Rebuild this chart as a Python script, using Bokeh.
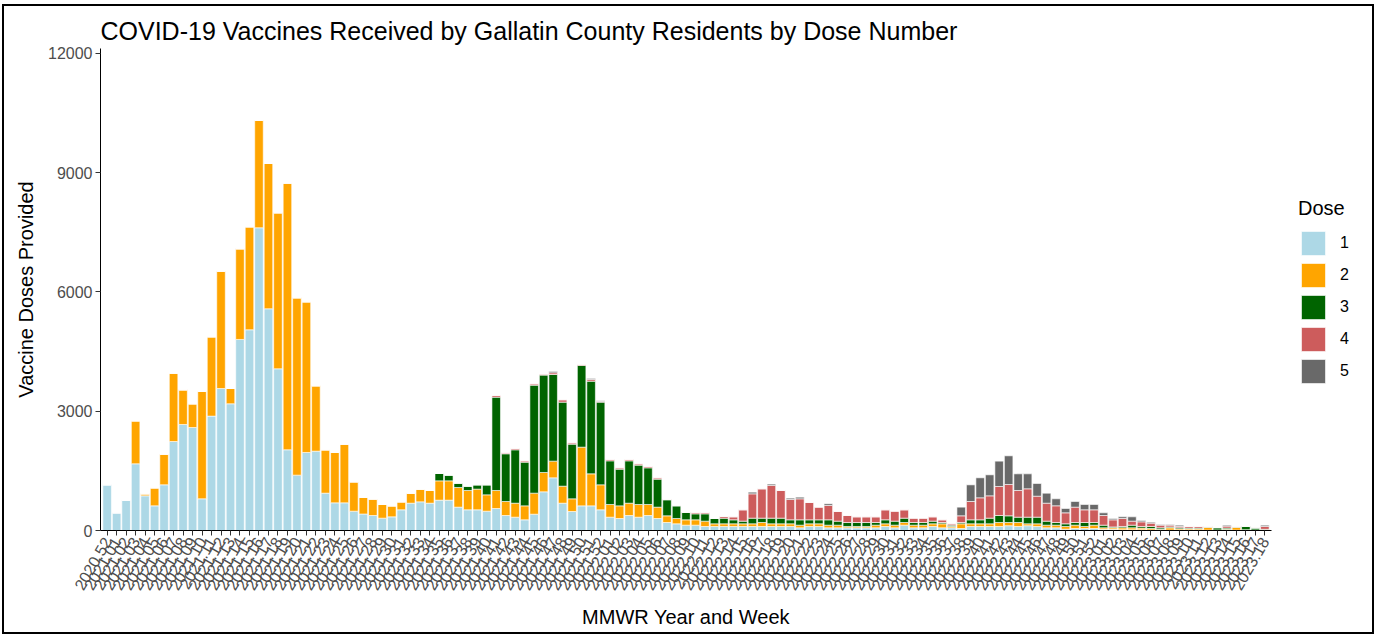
import math
from bokeh.plotting import figure
from bokeh.layouts import row
from bokeh.models import (FactorRange, FixedTicker, Legend, LegendItem, ColumnDataSource,
                          Range1d)
from bokeh.embed import file_html
from bokeh.resources import INLINE

# MMWR year.week categories
weeks = (["2020.52"]
         + [f"2021.{w:02d}" for w in range(1, 53)]
         + [f"2022.{w:02d}" for w in range(1, 53)]
         + [f"2023.{w:02d}" for w in range(1, 19)])

doses = ["1", "2", "3", "4", "5"]
colors = ["#ADD8E6", "#FFA500", "#006400", "#CD5C5C", "#696969"]

dose1 = [1150, 445, 762, 1677, 872, 620, 1149, 2238, 2666, 2590,
         797, 2876, 3571, 3186, 4804, 5047, 7612, 5575, 4066, 2029,
         1392, 1962, 1995, 939, 696, 696, 486, 415, 377, 310,
         343, 520, 687, 721, 687,
         763, 763, 587, 520, 520, 486, 553, 377, 335, 268,
         410, 973, 1325, 687, 478, 620, 620, 520, 335, 302,
         377, 335, 377, 302,
         201, 168, 134, 134, 101, 101, 101, 101, 101, 101,
         101, 101, 101, 101, 67, 101, 101, 67, 67, 67,
         67, 67, 67, 101, 67, 134, 67, 67, 101, 67, 67,
         50, 101, 101, 101, 101, 120, 101, 120, 101, 67,
         67, 34, 50, 50, 50, 30, 30, 20, 20, 20,
         15, 10, 10, 10, 10, 10, 10, 5, 10, 10, 5, 5, 5]

dose2 = [0, 0, 0, 1081, 50, 453, 771, 1719, 872, 596,
         2699, 1995, 2951, 385, 2280, 2590, 2700, 3655, 3923, 6706,
         4460, 3789, 1644, 1090, 1266, 1475, 738, 420, 415, 344,
         277, 201, 252, 319, 319,
         486, 486, 495, 486, 520, 411, 453, 352, 352, 352,
         529, 486, 419, 428, 319, 1476, 805, 629, 319, 318,
         310, 319, 277, 285,
         168, 134, 134, 134, 134, 67, 67, 67, 67, 67,
         100, 67, 67, 67, 67, 67, 67, 67, 67, 34,
         34, 34, 67, 67, 67, 67, 67, 67, 67, 101, 34,
         118, 67, 67, 67, 100, 81, 100, 48, 67, 67,
         67, 67, 84, 51, 84, 37, 37, 47, 47, 40,
         35, 20, 57, 30, 30, 30, 70, 10, 20, 70, 15, 10, 10]

dose3 = [0, 0, 0, 0, 0, 0, 0, 0, 0, 0,
         0, 0, 0, 0, 0, 0, 0, 0, 0, 0,
         0, 0, 0, 0, 0, 0, 0, 0, 0, 0,
         0, 0, 0, 0, 0,
         184, 143, 108, 109, 109, 252, 2347, 1200, 1342, 1098,
         2716, 2448, 2179, 2112, 1374, 2054, 2330, 2078, 1098, 922,
         1065, 989, 922, 704,
         402, 318, 185, 151, 184, 134, 142, 100, 67, 142,
         109, 142, 142, 100, 134, 100, 100, 134, 101, 100,
         100, 100, 67, 100, 101, 109, 67, 67, 67, 33, 33,
         33, 100, 100, 142, 176, 168, 134, 167, 167, 101,
         67, 67, 67, 100, 67, 67, 23, 34, 67, 41,
         51, 37, 23, 27, 20, 20, 10, 52, 30, 10, 81, 45, 15]

dose4 = [0, 0, 0, 0, 0, 0, 0, 0, 0, 0,
         0, 0, 0, 0, 0, 0, 0, 0, 0, 0,
         0, 0, 0, 0, 0, 0, 0, 0, 0, 0,
         0, 0, 0, 0, 0, 0, 0, 0, 0, 0,
         0,
         42, 24, 33, 34, 34, 25, 43, 60, 34, 25,
         43, 18, 34, 34, 34, 34, 34, 34,
         10, 5, 5, 34, 34, 0, 42, 76, 285, 612,
         738, 822, 696, 512, 529, 436, 319, 361, 243, 176,
         143, 143, 143, 252, 251, 210, 109, 109, 109, 67, 34,
         168, 461, 554, 562, 730, 788, 671, 713, 528, 452,
         420, 276, 386, 319, 319, 243, 178, 201, 101, 117,
         83, 67, 44, 34, 41, 41, 11, 8, 50, 11, 4, 7, 71]

dose5 = [0, 0, 0, 0, 0, 0, 0, 0, 0, 0,
         0, 0, 0, 0, 0, 0, 0, 0, 0, 0,
         0, 0, 0, 0, 0, 0, 0, 0, 0, 0,
         0, 0, 0, 0, 0, 0, 0, 0, 0, 0,
         0, 0, 0, 0, 0, 0, 0,
         33, 0, 0, 0, 25, 17,
         0, 0, 0, 0, 0, 0, 0, 0, 0, 0, 0, 0, 0, 0, 0,
         42, 0, 34, 0, 33, 41, 0, 0, 42,
         0, 0, 0, 0, 0, 0, 0, 0, 0, 0, 0, 0, 0,
         218, 419, 503, 528, 637, 721, 419, 377, 319, 252,
         176, 109, 142, 134, 134, 67, 34, 42, 109, 34,
         26, 16, 16, 33, 0, 0, 0, 0, 24, 0, 0, 0, 33]

y_ticks = [0, 3000, 6000, 9000, 12000]

for arr in (dose1, dose2, dose3, dose4, dose5):
    assert len(arr) == len(weeks), len(arr)

src = ColumnDataSource(dict(week=weeks, **{"1": dose1, "2": dose2, "3": dose3, "4": dose4, "5": dose5}))

FONT = "Liberation Sans"

p = figure(
    x_range=FactorRange(factors=weeks, range_padding=0.2, range_padding_units="absolute"),
    y_range=Range1d(0, 12120),
    width=1272, height=626,
    output_backend="svg", toolbar_location=None,
    title="COVID-19 Vaccines Received by Gallatin County Residents by Dose Number",
    min_border_left=96, min_border_right=5, min_border_top=42, min_border_bottom=102,
)

p.vbar_stack(doses, x="week", width=0.9, color=colors, source=src,
             line_color="white", line_width=0.6)

p.title.text_font = FONT
p.title.text_font_size = "25px"
p.title.text_font_style = "normal"
p.title.text_color = "black"
p.title.standoff = 8

p.outline_line_color = None
p.xgrid.visible = False
p.ygrid.visible = False
p.background_fill_color = "white"

for ax in (p.xaxis, p.yaxis):
    ax.axis_line_color = "black"
    ax.axis_line_width = 1
    ax.major_tick_line_color = "#333333"
    ax.major_tick_out = 5
    ax.major_tick_in = 0
    ax.minor_tick_line_color = None
    ax.major_label_text_font = FONT
    ax.major_label_text_font_size = "16px"
    ax.major_label_text_color = "#4D4D4D"
    ax.axis_label_text_font = FONT
    ax.axis_label_text_font_size = "20px"
    ax.axis_label_text_font_style = "normal"
    ax.axis_label_text_color = "black"

p.yaxis.ticker = FixedTicker(ticks=y_ticks)
p.yaxis.major_label_standoff = 3
p.yaxis.axis_label = "Vaccine Doses Provided"
p.yaxis.axis_label_standoff = 8

p.xaxis.major_label_orientation = math.pi / 3
p.xaxis.major_label_standoff = 3
p.xaxis.axis_label = "MMWR Year and Week"
p.xaxis.axis_label_standoff = 8

# legend panel (separate blank figure to the right of the plot)
lp = figure(width=96, height=626, x_range=Range1d(0, 1), y_range=Range1d(0, 1),
            x_axis_type=None, y_axis_type=None, toolbar_location=None,
            output_backend="svg", min_border=0)
lp.outline_line_color = None
lp.grid.visible = False
keys = [lp.vbar(x=[5], top=[1], width=0.9, color=c, line_color="white", line_width=0.6)
        for c in colors]

legend = Legend(
    items=[LegendItem(label=d, renderers=[r]) for d, r in zip(doses, keys)],
    title="Dose",
    location=(22, 144),
    orientation="vertical",
    glyph_width=30, glyph_height=30, spacing=2,
    label_standoff=12, padding=0, margin=0,
    title_standoff=8,
    background_fill_alpha=0, border_line_color=None,
    label_text_font=FONT, label_text_font_size="16px", label_text_color="black",
    title_text_font=FONT, title_text_font_size="20px", title_text_font_style="normal",
    title_text_color="black",
)
lp.add_layout(legend)

layout = row(p, lp)
layout.styles = {"border": "2px solid black", "margin-left": "2px", "margin-top": "4px"}

open("out.html", "w").write(file_html(layout, INLINE))
